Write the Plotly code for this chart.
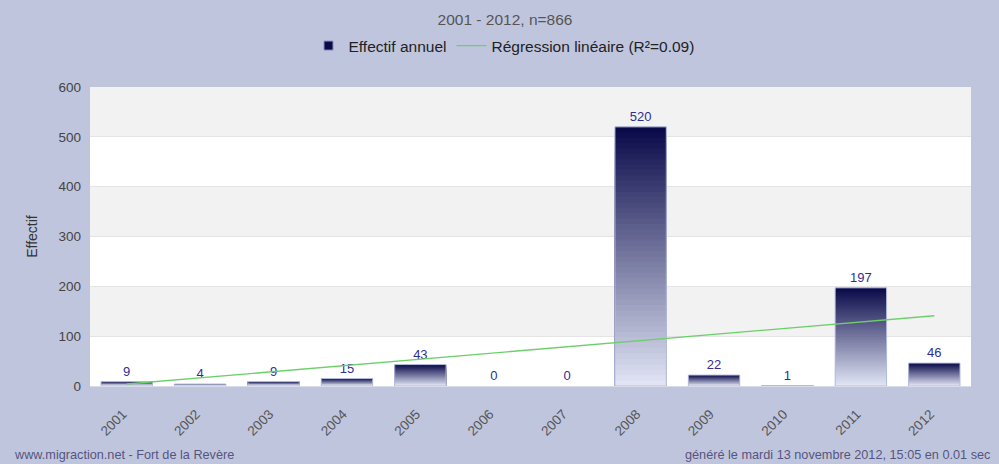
import plotly.graph_objects as go

years = ["2001", "2002", "2003", "2004", "2005", "2006", "2007", "2008", "2009", "2010", "2011", "2012"]
effectif = [9, 4, 9, 15, 43, 0, 0, 520, 22, 1, 197, 46]
reg_years = ["2001", "2012"]
reg_values = [4, 141]
y_ticks = [0, 100, 200, 300, 400, 500, 600]

FONT = "Liberation Sans"
N = 48
top_rgb = (8, 8, 72)
bot_rgb = (226, 230, 246)

fig = go.Figure()

# gradient bars: overlapping bars from base 0, each shorter and lighter
for k in range(N):
    frac = (N - k) / N
    t = (N - k - 0.5) / N  # 1 top -> 0 bottom
    c = tuple(round(bot_rgb[i] + (top_rgb[i] - bot_rgb[i]) * t) for i in range(3))
    fig.add_trace(go.Bar(
        x=years,
        y=[v * frac for v in effectif],
        marker=dict(color="rgb(%d,%d,%d)" % c, line=dict(width=0)),
        showlegend=False, hoverinfo="skip",
    ))

# outline + labels
fig.add_trace(go.Bar(
    x=years, y=effectif,
    marker=dict(color="rgba(0,0,0,0)",
                line=dict(color="#b4bcdc", width=[1 if v > 0 else 0 for v in effectif])),
    text=[str(v) for v in effectif], textposition="outside",
    textfont=dict(family=FONT, size=13, color="#2e2e96"),
    cliponaxis=False, showlegend=False, name="Effectif annuel", hoverinfo="skip",
))

# legend proxy for bars
fig.add_trace(go.Scatter(
    x=[None], y=[None], mode="markers", name="Effectif annuel",
    marker=dict(symbol="square", size=9, color="#0a0a4a", line=dict(color="#8890b8", width=1)),
))

fig.add_trace(go.Scatter(
    x=reg_years, y=reg_values, mode="lines", name="Régression linéaire (R²=0.09)",
    line=dict(color="#6ccf6c", width=1.3), hoverinfo="skip",
))

# alternating bands
shapes = []
for i in range(len(y_ticks) - 1):
    if i % 2 == 1:
        shapes.append(dict(type="rect", xref="paper", yref="y", x0=0, x1=1,
                           y0=y_ticks[i], y1=y_ticks[i + 1],
                           fillcolor="#f2f2f2", line=dict(width=0), layer="below"))

fig.update_layout(
    width=999, height=464,
    margin=dict(l=90, r=28, t=87, b=78),
    paper_bgcolor="#c0c5de", plot_bgcolor="#ffffff",
    barmode="overlay", bargap=0.3,
    font=dict(family=FONT, size=13, color="#444444"),
    title=dict(text="2001 - 2012, n=866", x=505 / 999, xanchor="center", xref="container",
               y=1 - 20 / 464, yanchor="middle", yref="container",
               font=dict(family=FONT, size=15.5, color="#555555")),
    legend=dict(orientation="h", x=504 / 999, xanchor="center", xref="container",
                y=1 - 46 / 464, yanchor="middle", yref="container", bgcolor="rgba(0,0,0,0)",
                font=dict(family=FONT, size=15.5, color="#222222"), itemwidth=30),
    shapes=shapes,
    xaxis=dict(tickangle=-45, tickfont=dict(family=FONT, size=13.5, color="#555555"),
               showgrid=False, showline=True, linecolor="#d8dbe8", ticks="", zeroline=False,
               ticklabelstandoff=14, ticklabelshift=-4),
    yaxis=dict(range=[0, 600], tickvals=y_ticks, showgrid=True, gridcolor="#e4e4e4",
               tickfont=dict(family=FONT, size=13.5, color="#444444"), zeroline=False,
               title=dict(text="Effectif", font=dict(family=FONT, size=14, color="#333333"), standoff=17),
               ticks="", ticklen=0, ticklabelstandoff=8),
    annotations=[
        dict(text="www.migraction.net - Fort de la Revère", xref="paper", yref="paper",
             x=(12 - 90) / 881, y=(386 - 455) / 299, xanchor="left", yanchor="middle",
             showarrow=False, font=dict(family=FONT, size=12.7, color="#55557f")),
        dict(text="généré le mardi 13 novembre 2012, 15:05 en 0.01 sec", xref="paper", yref="paper",
             x=(993 - 90) / 881, y=(386 - 455) / 299, xanchor="right", yanchor="middle",
             showarrow=False, font=dict(family=FONT, size=12.7, color="#55557f")),
    ],
)

fig.write_html("out.html", config={"displayModeBar": False},
               post_script="document.body.style.margin='0px';document.body.style.overflow='hidden';")
